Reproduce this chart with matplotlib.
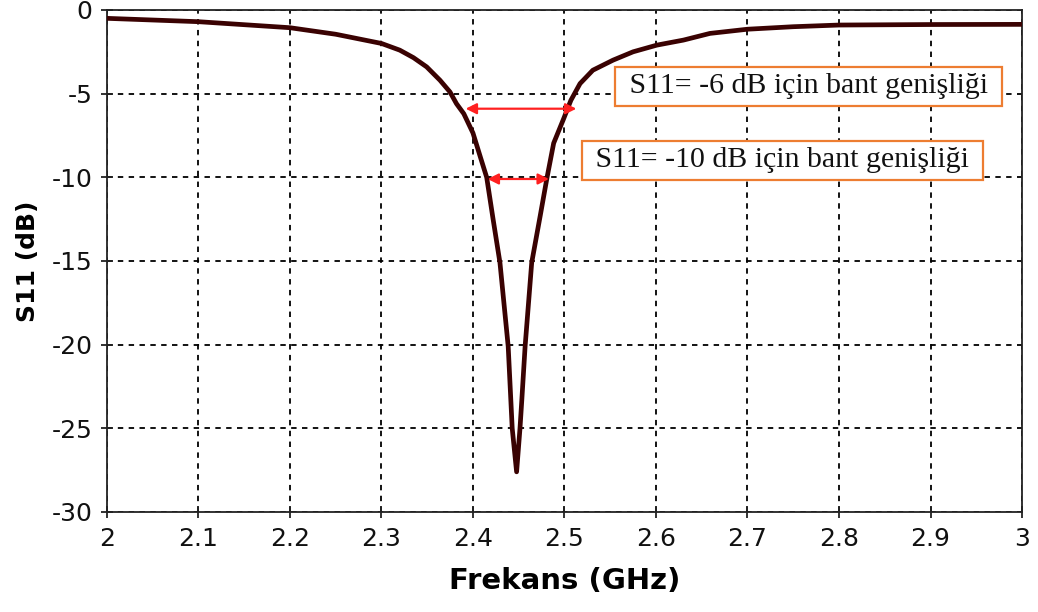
import numpy as np
import matplotlib
matplotlib.use("Agg")
import matplotlib.pyplot as plt

plt.rcParams["axes.unicode_minus"] = False

# S11 curve (GHz, dB)
freq = [2.000, 2.050, 2.100, 2.150, 2.200, 2.250, 2.300, 2.320, 2.335, 2.3494,
        2.364, 2.3749, 2.382, 2.390, 2.400, 2.408, 2.415, 2.422, 2.4295,
        2.4385, 2.4429, 2.4477, 2.4514, 2.4534, 2.457, 2.4642, 2.4735,
        2.481, 2.4882, 2.4991, 2.507, 2.517, 2.531, 2.553, 2.575, 2.601,
        2.630, 2.659, 2.700, 2.750, 2.800, 2.900, 3.000]
s11 = [-0.50, -0.60, -0.70, -0.88, -1.06, -1.45, -2.00, -2.40, -2.85, -3.40,
       -4.20, -4.90, -5.60, -6.20, -7.35, -8.77, -10.0, -12.5, -15.1,
       -20.1, -25.0, -27.6, -25.0, -23.3, -20.1, -15.1, -12.3,
       -10.0, -7.96, -6.50, -5.40, -4.40, -3.60, -3.00, -2.50, -2.10,
       -1.80, -1.40, -1.15, -1.00, -0.90, -0.87, -0.86]

# bandwidth markers: (level dB, f_low, f_high)
bw_levels = [-5.9, -10.1]
bw_low = [2.392, 2.416]
bw_high = [2.513, 2.483]
bw_labels = [" S11= -6 dB için bant genişliği ", " S11= -10 dB için bant genişliği "]
label_x = [2.767, 2.738]
label_y = [-4.57, -8.97]

xticks = np.round(np.arange(2.0, 3.01, 0.1), 1)
yticks = np.arange(-30, 1, 5)

fig = plt.figure(figsize=(10.38, 6.12), dpi=100)
ax = fig.add_axes([0.103, 0.1634, 0.8816, 0.8203])

ax.plot(freq, s11, color="#3a0202", lw=3.4, zorder=3,
        solid_joinstyle="round", solid_capstyle="round")

for lev, lo, hi in zip(bw_levels, bw_low, bw_high):
    ax.annotate("", xy=(lo, lev), xytext=(hi, lev),
                arrowprops=dict(arrowstyle="<|-|>", color="#ff2020", lw=1.6,
                                mutation_scale=16, shrinkA=0, shrinkB=0),
                zorder=4)

for txt, tx, ty in zip(bw_labels, label_x, label_y):
    ax.text(tx, ty, txt, ha="center", va="center", fontsize=21.5,
            family="Liberation Serif", color="#111111", zorder=5,
            bbox=dict(boxstyle="square,pad=0.22", fc="white",
                      ec="#ed7d31", lw=1.6))

ax.set_xlim(2, 3)
ax.set_ylim(-30, 0)
ax.set_xticks(xticks)
ax.set_xticklabels([f"{v:g}" for v in xticks])
ax.set_yticks(yticks)
ax.grid(True, color="black", linestyle=(0, (3, 3)), lw=1.3)
ax.set_axisbelow(True)

for sp in ax.spines.values():
    sp.set_color("#222222")
    sp.set_linewidth(1.3)

ax.tick_params(direction="inout", length=9, width=1.3, labelsize=18,
               pad=6, colors="#222222", labelcolor="#111111")

ax.set_xlabel("Frekans (GHz)", fontsize=21, fontweight="bold", labelpad=12)
ax.set_ylabel("S11 (dB)", fontsize=18, fontweight="bold", labelpad=8)

fig.savefig("out.png", dpi=100)
